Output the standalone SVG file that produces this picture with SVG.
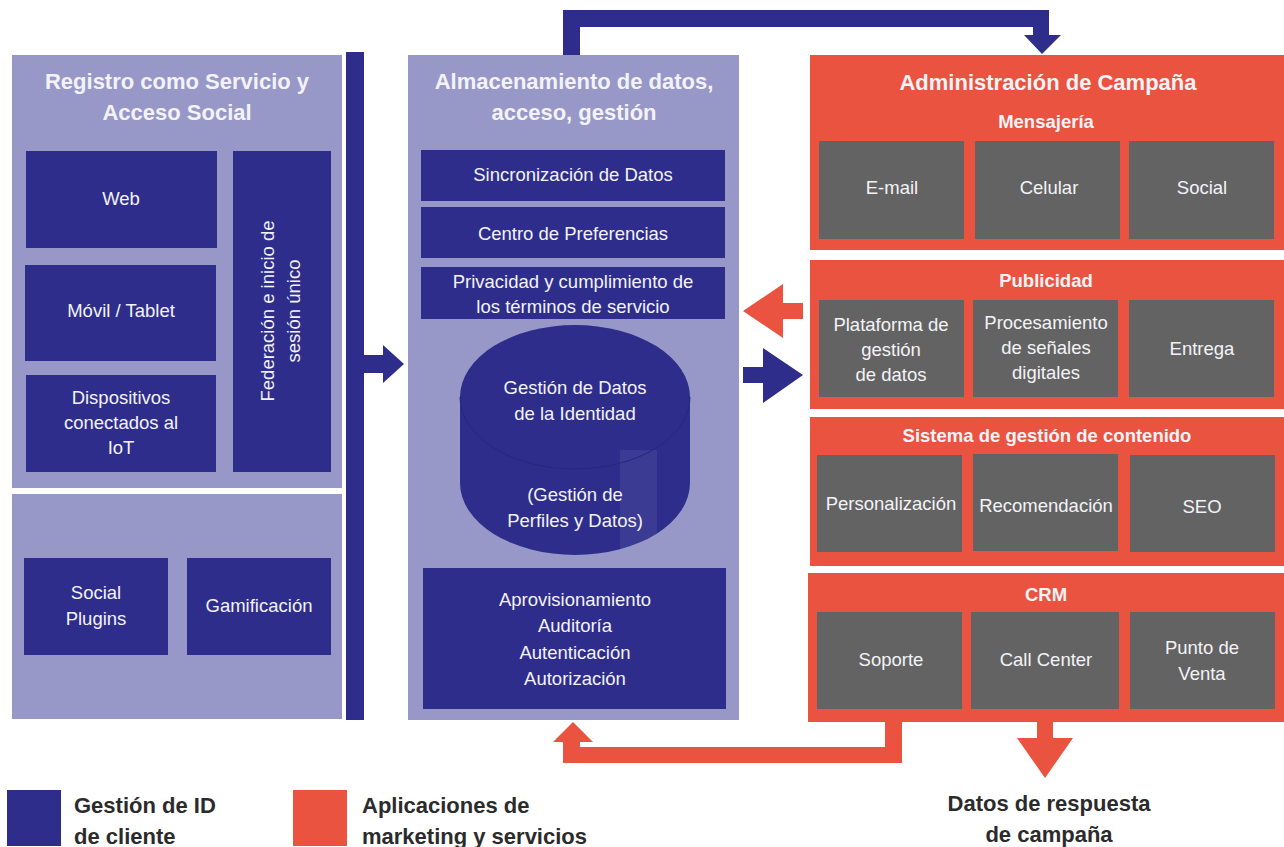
<svg xmlns="http://www.w3.org/2000/svg" width="1284" height="847" viewBox="0 0 1284 847">
<style>
.panel{fill:#9898c8}
.navy{fill:#2e2d8c}
.red{fill:#e9533f}
.gray{fill:#636363}
text{font-family:"Liberation Sans",Arial,sans-serif;fill:#f3f3f7;text-anchor:middle}
.t{font-size:22px;font-weight:bold}
.s{font-size:18.5px;font-weight:bold}
.b{font-size:18.5px}
.lg{font-size:22px;font-weight:bold;fill:#2b2b2b;text-anchor:start}
.lc{font-size:22px;font-weight:bold;fill:#2b2b2b}
</style>
<defs>
  <clipPath id="cyl"><path d="M460,397 A115,72 0 0 1 690,397 V483 A115,72 0 0 1 460,483 Z"/></clipPath>
</defs>
<rect width="1284" height="847" fill="#ffffff"/>

<g id="connectors">
  <rect class="navy" x="346" y="52" width="18" height="668"/>
  <path class="navy" d="M364,355 H383 V345 L404,364 L383,383 V373 H364 Z"/>
  <path class="navy" d="M563,55 V10 H1049 V35 H1061 L1042,54 L1024,35 H1033 V27 H580 V55 Z"/>
  <path class="red" d="M803,303 H783 V284 L743,311 L783,338 V319 H803 Z"/>
  <path class="navy" d="M743,367 H763 V348 L803,375 L763,403 V383 H743 Z"/>
  <path class="red" d="M885,722 H902 V763 H563 V742 H553 L573,722 L593,742 H580 V747 H885 Z"/>
  <path class="red" d="M1037,722 H1053 V738 H1073 L1045,778 L1017,738 H1037 Z"/>
</g>

<g id="registro">
  <rect class="panel" x="12" y="55" width="330" height="433"/>
  <text class="t" x="177" y="89">Registro como Servicio y</text>
  <text class="t" x="177" y="120">Acceso Social</text>
</g>
<g id="web"><rect class="navy" x="26" y="151" width="191" height="97"/><text class="b" x="121" y="205">Web</text></g>
<g id="movil"><rect class="navy" x="25" y="265" width="191" height="96"/><text class="b" x="121" y="317">Móvil / Tablet</text></g>
<g id="dispositivos"><rect class="navy" x="26" y="375" width="190" height="97"/>
  <text class="b" x="121" y="404">Dispositivos</text><text class="b" x="121" y="429">conectados al</text><text class="b" x="121" y="454">IoT</text></g>
<g id="federacion"><rect class="navy" x="233" y="151" width="98" height="321"/>
  <text class="b" transform="translate(274,311) rotate(-90)"><tspan x="0" y="0">Federación  e inicio de</tspan><tspan x="0" y="26">sesión único</tspan></text></g>

<g id="social-panel"><rect class="panel" x="12" y="494" width="330" height="225"/></g>
<g id="social-plugins"><rect class="navy" x="24" y="558" width="144" height="97"/>
  <text class="b" x="96" y="599">Social</text><text class="b" x="96" y="625">Plugins</text></g>
<g id="gamificacion"><rect class="navy" x="187" y="558" width="144" height="97"/><text class="b" x="259" y="612">Gamificación</text></g>

<g id="almacenamiento">
  <rect class="panel" x="408" y="55" width="331" height="665"/>
  <text class="t" x="574" y="89">Almacenamiento de datos,</text>
  <text class="t" x="574" y="120">acceso, gestión</text>
</g>
<g id="sincronizacion"><rect class="navy" x="421" y="150" width="304" height="51"/><text class="b" x="573" y="181">Sincronización de Datos</text></g>
<g id="centro"><rect class="navy" x="421" y="207" width="304" height="51"/><text class="b" x="573" y="240">Centro de Preferencias</text></g>
<g id="privacidad"><rect class="navy" x="421" y="267" width="304" height="52"/>
  <text class="b" x="573" y="288">Privacidad y cumplimiento de</text><text class="b" x="573" y="313">los términos de servicio</text></g>
<g id="identidad">
  <path class="navy" d="M460,397 A115,72 0 0 1 690,397 V483 A115,72 0 0 1 460,483 Z"/>
  <rect x="620" y="450" width="37" height="110" fill="#ffffff" opacity="0.07" clip-path="url(#cyl)"/>
  <path d="M460,397 A115,72 0 0 0 690,397" fill="none" stroke="#28277c" stroke-width="1"/>
  <text class="b" x="575" y="394">Gestión de Datos</text><text class="b" x="575" y="420">de la Identidad</text>
  <text class="b" x="575" y="501">(Gestión de</text><text class="b" x="575" y="527">Perfiles y Datos)</text>
</g>
<g id="aprovisionamiento"><rect class="navy" x="423" y="568" width="303" height="141"/>
  <text class="b" x="575" y="606">Aprovisionamiento</text><text class="b" x="575" y="632">Auditoría</text>
  <text class="b" x="575" y="659">Autenticación</text><text class="b" x="575" y="685">Autorización</text></g>

<g id="campana">
  <rect class="red" x="810" y="55" width="474" height="195"/>
  <text class="t" x="1048" y="90">Administración de Campaña</text>
  <text class="s" x="1046" y="128">Mensajería</text>
</g>
<g id="email"><rect class="gray" x="819" y="141" width="145" height="98"/><text class="b" x="892" y="194">E-mail</text></g>
<g id="celular"><rect class="gray" x="975" y="141" width="145" height="98"/><text class="b" x="1049" y="194">Celular</text></g>
<g id="social"><rect class="gray" x="1129" y="141" width="145" height="98"/><text class="b" x="1202" y="194">Social</text></g>

<g id="publicidad"><rect class="red" x="810" y="260" width="474" height="149"/><text class="s" x="1046" y="287">Publicidad</text></g>
<g id="plataforma"><rect class="gray" x="819" y="300" width="145" height="97"/>
  <text class="b" x="891" y="331">Plataforma de</text><text class="b" x="891" y="356">gestión</text><text class="b" x="891" y="381">de datos</text></g>
<g id="procesamiento"><rect class="gray" x="973" y="300" width="145" height="97"/>
  <text class="b" x="1046" y="329">Procesamiento</text><text class="b" x="1046" y="354">de señales</text><text class="b" x="1046" y="379">digitales</text></g>
<g id="entrega"><rect class="gray" x="1129" y="300" width="145" height="97"/><text class="b" x="1202" y="355">Entrega</text></g>

<g id="cms"><rect class="red" x="810" y="417" width="474" height="149"/><text class="s" x="1047" y="442">Sistema de gestión de contenido</text></g>
<g id="personalizacion"><rect class="gray" x="817" y="455" width="145" height="97"/><text class="b" x="891" y="510">Personalización</text></g>
<g id="recomendacion"><rect class="gray" x="973" y="454" width="145" height="97"/><text class="b" x="1046" y="512">Recomendación</text></g>
<g id="seo"><rect class="gray" x="1130" y="455" width="145" height="97"/><text class="b" x="1202" y="513">SEO</text></g>

<g id="crm"><rect class="red" x="808" y="573" width="476" height="149"/><text class="s" x="1046" y="601">CRM</text></g>
<g id="soporte"><rect class="gray" x="817" y="612" width="145" height="97"/><text class="b" x="891" y="666">Soporte</text></g>
<g id="callcenter"><rect class="gray" x="971" y="612" width="148" height="97"/><text class="b" x="1046" y="666">Call Center</text></g>
<g id="puntoventa"><rect class="gray" x="1130" y="612" width="145" height="97"/>
  <text class="b" x="1202" y="654">Punto de</text><text class="b" x="1202" y="680">Venta</text></g>

<g id="respuesta"><text class="lc" x="1049" y="811">Datos de respuesta</text><text class="lc" x="1049" y="842">de campaña</text></g>

<g id="legend-id"><rect class="navy" x="7" y="790" width="54" height="56"/>
  <text class="lg" x="74" y="813">Gestión de ID</text><text class="lg" x="74" y="844">de cliente</text></g>
<g id="legend-mkt"><rect class="red" x="293" y="790" width="54" height="56"/>
  <text class="lg" x="362" y="813">Aplicaciones de</text><text class="lg" x="362" y="844">marketing y servicios</text></g>
</svg>
